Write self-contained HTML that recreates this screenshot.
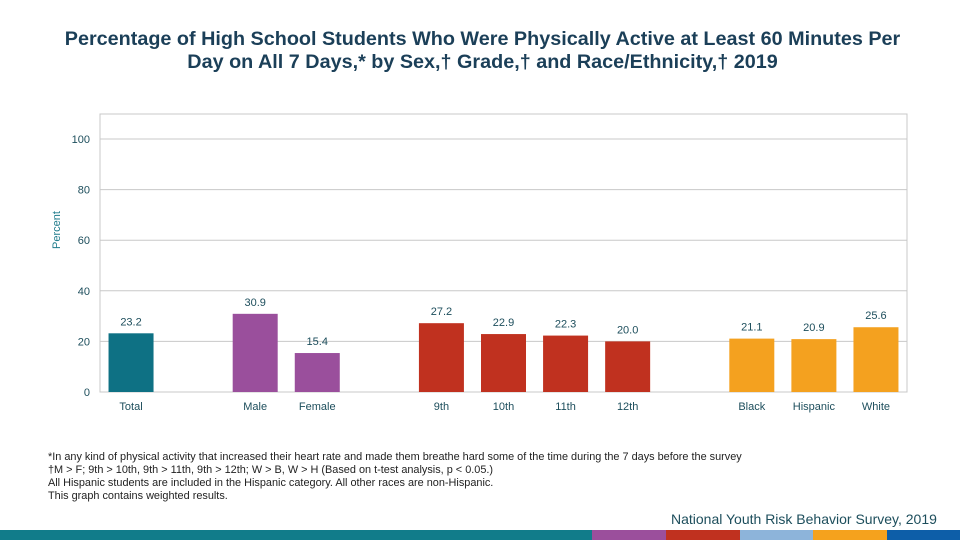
<!DOCTYPE html>
<html><head><meta charset="utf-8"><style>
body{margin:0;width:960px;height:540px;background:#fff;font-family:"Liberation Sans",sans-serif;position:relative;overflow:hidden}
.t{position:absolute;white-space:nowrap}
</style></head><body>
<div class="t" style="left:0;width:965px;top:28px;text-align:center;font-size:19.8px;font-weight:bold;color:#1b3f58;line-height:23px">Percentage of High School Students Who Were Physically Active at Least 60 Minutes Per<br>Day on All 7 Days,* by Sex,† Grade,† and Race/Ethnicity,† 2019</div>
<svg id="c" width="960" height="540" style="position:absolute;left:0;top:0" font-family="Liberation Sans, sans-serif"></svg>
<div class="t" style="left:48px;top:451px;font-size:10.9px;line-height:13px;color:#222">*In any kind of physical activity that increased their heart rate and made them breathe hard some of the time during the 7 days before the survey<br>†M &gt; F; 9th &gt; 10th, 9th &gt; 11th, 9th &gt; 12th; W &gt; B, W &gt; H (Based on t-test analysis, p &lt; 0.05.)<br>All Hispanic students are included in the Hispanic category.  All other races are non-Hispanic.<br>This graph contains weighted results.</div>
<div class="t" style="left:671px;top:511px;font-size:14px;color:#1d4e5c">National Youth Risk Behavior Survey, 2019</div>
<div style="position:absolute;left:0;top:530px;width:960px;height:10px;background:linear-gradient(to right,#117c8a 0 592px,#9b4f9c 592px 666px,#c0311f 666px 740px,#8db4da 740px 813px,#f5a21d 813px 887px,#0d5ea8 887px)"></div>
<script>
const categories=["Total","","Male","Female","","9th","10th","11th","12th","","Black","Hispanic","White"];
const values=[23.2,null,30.9,15.4,null,27.2,22.9,22.3,20.0,null,21.1,20.9,25.6];
const colors=["#0e7184","","#9a4f9c","#9a4f9c","","#c0311f","#c0311f","#c0311f","#c0311f","","#f4a11f","#f4a11f","#f4a11f"];
const ticks=[0,20,40,60,80,100];
const svg=document.getElementById('c'),NS="http://www.w3.org/2000/svg";
const x0=100,x1=907,yTop=114;
const y=v=>392-v*2.53;
const slot=(x1-x0)/categories.length;
const xc=i=>x0+slot*(i+0.5);
function mk(t,a){const e=document.createElementNS(NS,t);for(const k in a)e.setAttribute(k,a[k]);svg.appendChild(e);return e;}
let f=mk('rect',{x:x0,y:yTop,width:x1-x0,height:392-yTop,fill:'none',stroke:'#c8c8c8'});

ticks.forEach(t=>{
 let g=mk('line',{x1:x0,x2:x1,y1:y(t),y2:y(t),stroke:'#c8c8c8'});
 
 let l=mk('text',{x:90,y:y(t)+4,'text-anchor':'end','font-size':11,fill:'#1d4e5c'});l.textContent=t;
 
});
let yt=mk('text',{x:0,y:0,transform:'translate(60,230) rotate(-90)','text-anchor':'middle','font-size':11,fill:'#1d7a8a'});yt.textContent='Percent';

categories.forEach((c,i)=>{
 if(values[i]==null)return;
 const w=45;
 let b=mk('rect',{x:xc(i)-w/2,y:y(values[i]),width:w,height:392-y(values[i]),fill:colors[i]});
 
 let v=mk('text',{x:xc(i),y:y(values[i])-8,'text-anchor':'middle','font-size':11,fill:'#1d4e5c'});v.textContent=values[i].toFixed(1);
 
 let l=mk('text',{x:xc(i),y:410,'text-anchor':'middle','font-size':11,fill:'#1d4e5c'});l.textContent=c;
 
});
</script>
</body></html>
